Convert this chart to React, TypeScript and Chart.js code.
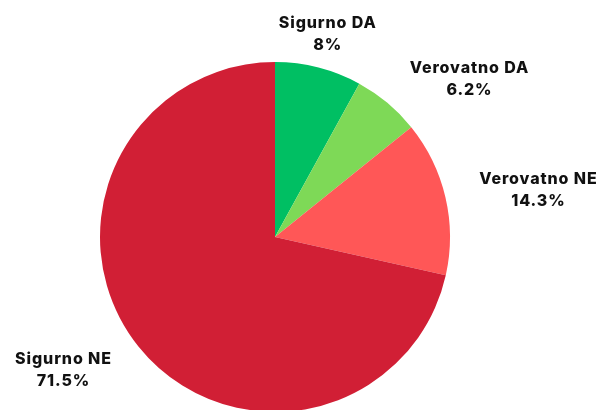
import React, { useEffect, useRef } from "react";
import { Chart, registerables } from "chart.js";

Chart.register(...registerables);

const categories = ["Sigurno DA", "Verovatno DA", "Verovatno NE", "Sigurno NE"];
const values = [8, 6.2, 14.3, 71.5];
const valueLabels = ["8%", "6.2%", "14.3%", "71.5%"];
const colors = ["#00bf63", "#7ed957", "#ff5757", "#d11f35"];

// label placement: angular nudge (deg) from slice middle, and distance as factor of radius
const labelAngleNudge = [0, 10.7, 2.8, 6.6];
const labelRadiusFactor = [1.2, 1.433, 1.527, 1.43];

const labelPlugin = {
  id: "outerLabels",
  afterDraw(chart: any) {
    const ctx = chart.ctx;
    const meta = chart.getDatasetMeta(0);
    ctx.save();
    ctx.fillStyle = "#111111";
    ctx.font = "800 16px Inter";
    (ctx as any).letterSpacing = "0.9px";
    ctx.textAlign = "center";
    ctx.textBaseline = "alphabetic";
    meta.data.forEach((arc: any, i: number) => {
      const p = arc.getProps(["x", "y", "startAngle", "endAngle", "outerRadius"], true);
      const mid = (p.startAngle + p.endAngle) / 2 + (labelAngleNudge[i] * Math.PI) / 180;
      const r = p.outerRadius * labelRadiusFactor[i];
      const cx = p.x + Math.cos(mid) * r + 0.5;
      const cy = p.y + Math.sin(mid) * r;
      ctx.fillText(categories[i], cx, cy - 5.5);
      ctx.fillText(valueLabels[i], cx, cy + 16.5);
    });
    ctx.restore();
  },
};

export default function App() {
  const ref = useRef<HTMLCanvasElement | null>(null);
  useEffect(() => {
    document.body.style.margin = "0";
    const chart = new Chart(ref.current as HTMLCanvasElement, {
      type: "pie",
      data: {
        labels: categories,
        datasets: [
          {
            data: values,
            backgroundColor: colors,
            borderWidth: 0,
          },
        ],
      },
      options: {
        animation: false,
        responsive: false,
        layout: { padding: { left: 100, right: 163, top: 62, bottom: 8 } },
        plugins: {
          legend: { display: false },
          tooltip: { enabled: false },
        },
      },
      plugins: [labelPlugin],
    });
    return () => chart.destroy();
  }, []);
  return (
    <div style={{ width: 613, height: 410, overflow: "hidden", background: "#ffffff" }}>
      <canvas ref={ref} width={613} height={420} style={{ display: "block" }} />
    </div>
  );
}
